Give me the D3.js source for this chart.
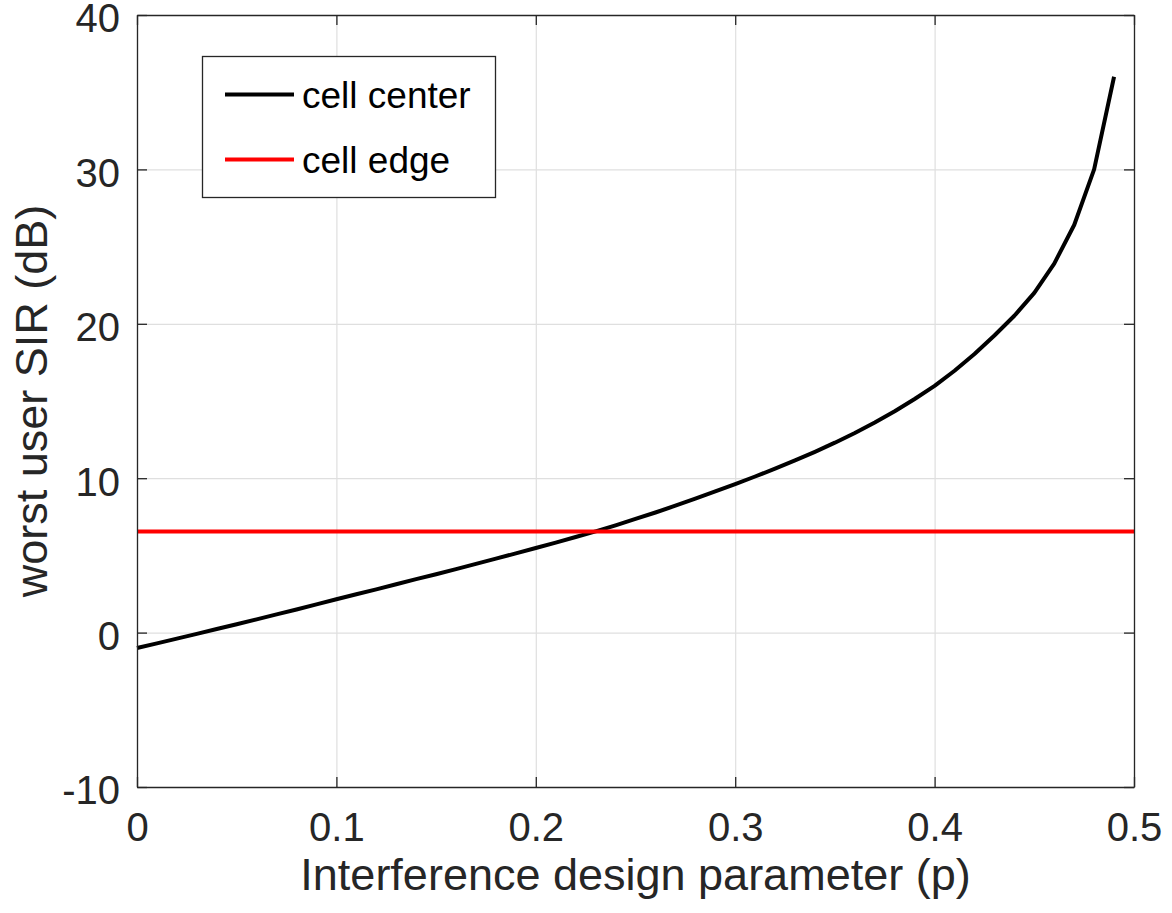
<!DOCTYPE html>
<html>
<head>
<meta charset="utf-8">
<script src="https://cdn.jsdelivr.net/npm/d3@7"></script>
<style>
  html, body { margin: 0; padding: 0; background: #fff; }
  svg { display: block; }
  text { font-family: "Liberation Sans", Arial, Helvetica, sans-serif; fill: #262626; }
</style>
</head>
<body>
<svg id="chart" width="1172" height="913"></svg>
<script>
// ---- data ----
const pValues = [0.00,0.01,0.02,0.03,0.04,0.05,0.06,0.07,0.08,0.09,
                 0.10,0.11,0.12,0.13,0.14,0.15,0.16,0.17,0.18,0.19,
                 0.20,0.21,0.22,0.23,0.24,0.25,0.26,0.27,0.28,0.29,
                 0.30,0.31,0.32,0.33,0.34,0.35,0.36,0.37,0.38,0.39,
                 0.40,0.41,0.42,0.43,0.44,0.45,0.46,0.47,0.48,0.49];
const cellCenterSIR = [-1.00,-0.70,-0.39,-0.08,0.23,0.54,0.86,1.18,1.50,1.83,
                       2.16,2.48,2.80,3.13,3.46,3.78,4.11,4.45,4.79,5.13,
                       5.48,5.83,6.19,6.56,6.95,7.36,7.78,8.22,8.67,9.14,
                       9.62,10.11,10.62,11.15,11.71,12.30,12.93,13.61,14.34,15.13,
                       15.98,16.96,18.04,19.24,20.52,22.00,23.90,26.40,30.00,36.00];
const cellEdgeP = [0, 0.5];
const cellEdgeSIR = [6.54, 6.54];
const seriesNames = ["cell center", "cell edge"];
const seriesColors = ["#000000", "#ff0000"];
const xTicks = [0, 0.1, 0.2, 0.3, 0.4, 0.5];
const yTicks = [-10, 0, 10, 20, 30, 40];
const xLabel = "Interference design parameter (p)";
const yLabel = "worst user SIR (dB)";

// ---- layout ----
const L = 137, R = 1134, T = 15, B = 787;
const svg = d3.select("#chart");
const x = d3.scaleLinear().domain([0, 0.5]).range([L, R]);
const y = d3.scaleLinear().domain([-10, 40]).range([B, T]);
const axisColor = "#262626";
const fmt = d => String(d);

// grid
svg.append("g").attr("transform", `translate(0,${B})`)
  .call(d3.axisBottom(x).tickValues(xTicks).tickSize(-(B - T)).tickFormat(""))
  .call(g => g.select(".domain").remove())
  .call(g => g.selectAll("line").attr("stroke", "#dfdfdf").attr("stroke-width", 1.2));
svg.append("g").attr("transform", `translate(${L},0)`)
  .call(d3.axisLeft(y).tickValues(yTicks).tickSize(-(R - L)).tickFormat(""))
  .call(g => g.select(".domain").remove())
  .call(g => g.selectAll("line").attr("stroke", "#dfdfdf").attr("stroke-width", 1.2));

// lines
const line = d3.line().x(d => x(d[0])).y(d => y(d[1]));
const centerData = pValues.map((p, i) => [p, cellCenterSIR[i]]);
const edgeData = cellEdgeP.map((p, i) => [p, cellEdgeSIR[i]]);
svg.append("path").datum(centerData).attr("d", line)
  .attr("fill", "none").attr("stroke", seriesColors[0]).attr("stroke-width", 4).attr("stroke-linejoin", "round");
svg.append("path").datum(edgeData).attr("d", line)
  .attr("fill", "none").attr("stroke", seriesColors[1]).attr("stroke-width", 4);

// axes
function styleAxis(g) {
  g.select(".domain").attr("stroke", axisColor).attr("stroke-width", 1.3);
  g.selectAll(".tick line").attr("stroke", axisColor).attr("stroke-width", 1.3);
  g.selectAll("text").attr("fill", axisColor).style("font-size", "40px")
    .style("font-family", '"Liberation Sans", Arial, Helvetica, sans-serif');
}
svg.append("g").attr("transform", `translate(0,${B})`)
  .call(d3.axisBottom(x).tickValues(xTicks).tickSizeInner(-10).tickSizeOuter(0).tickPadding(26).tickFormat(fmt))
  .call(styleAxis);
svg.append("g").attr("transform", `translate(${L},0)`)
  .call(d3.axisLeft(y).tickValues(yTicks).tickSizeInner(-10).tickSizeOuter(0).tickPadding(17).tickFormat(fmt))
  .call(styleAxis)
  .call(g => g.selectAll("text").attr("dy", "0.42em"));
svg.append("g").attr("transform", `translate(0,${T})`)
  .call(d3.axisTop(x).tickValues(xTicks).tickSizeInner(-10).tickSizeOuter(0).tickFormat(""))
  .call(styleAxis);
svg.append("g").attr("transform", `translate(${R},0)`)
  .call(d3.axisRight(y).tickValues(yTicks).tickSizeInner(-10).tickSizeOuter(0).tickFormat(""))
  .call(styleAxis);

// axis labels
svg.append("text").attr("x", (L + R) / 2).attr("y", 890)
  .attr("text-anchor", "middle").style("font-size", "45px").text(xLabel);
svg.append("text").attr("transform", `translate(47,${(T + B) / 2}) rotate(-90)`)
  .attr("text-anchor", "middle").style("font-size", "45px").text(yLabel);

// legend
const lg = svg.append("g");
lg.append("rect").attr("x", 202.5).attr("y", 56.5).attr("width", 293).attr("height", 141)
  .attr("fill", "#fff").attr("stroke", axisColor).attr("stroke-width", 1.3);
const legendY = [94.5, 159.5];
seriesNames.forEach((name, i) => {
  lg.append("line").attr("x1", 225).attr("x2", 294).attr("y1", legendY[i]).attr("y2", legendY[i])
    .attr("stroke", seriesColors[i]).attr("stroke-width", 4);
  lg.append("text").attr("x", 302).attr("y", legendY[i] + 13)
    .style("font-size", "37px").style("fill", "#000").text(name);
});
</script>
</body>
</html>
